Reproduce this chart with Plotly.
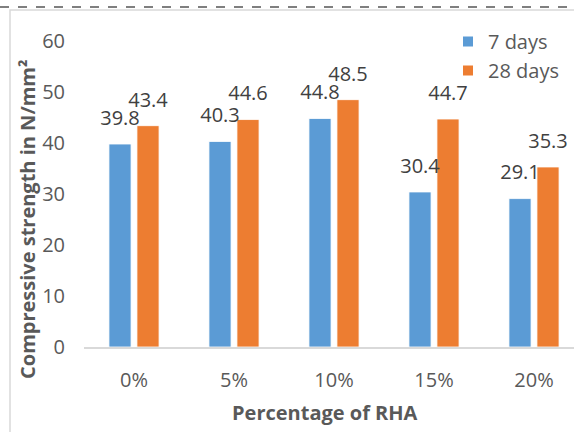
import plotly.graph_objects as go

categories = ["0%", "5%", "10%", "15%", "20%"]
days7 = [39.8, 40.3, 44.8, 30.4, 29.1]
days28 = [43.4, 44.6, 48.5, 44.7, 35.3]
series_names = ["7 days", "28 days"]
colors = ["#5B9BD5", "#ED7D31"]

W, H = 574, 432
L, R, T, B = 84, 0, 41, 85
pw, ph = W - L - R, H - T - B

def px_x(px):
    return (px - L) / pw

def px_y(py):
    return (H - B - py) / ph

font_family = "Open Sans, Liberation Sans, Arial, sans-serif"
txt_color = "#595959"
fs = 20

fig = go.Figure()
for name, vals, col in zip(series_names, [days7, days28], colors):
    fig.add_trace(go.Bar(
        x=categories, y=vals, name=name, offsetgroup=name,
        marker=dict(color=col, line=dict(color="white", width=0.8)),
        hoverinfo="skip",
    ))
for name, vals in zip(series_names, [days7, days28]):
    fig.add_trace(go.Scatter(
        x=categories, y=vals, name=name + " labels", offsetgroup=name,
        mode="markers+text", marker=dict(size=21, opacity=0),
        text=[f"{v:.1f}" for v in vals], textposition="top center",
        textfont=dict(size=fs, color="#404040", family=font_family),
        showlegend=False, hoverinfo="skip", cliponaxis=False,
    ))

fig.update_layout(
    width=W, height=H,
    margin=dict(l=L, r=R, t=T, b=B, autoexpand=False),
    paper_bgcolor="white", plot_bgcolor="white",
    barmode="group", bargap=0.44, bargroupgap=0.21,
    scattermode="group", scattergap=0.44,
    font=dict(family=font_family, color=txt_color, size=fs),
    showlegend=True,
    legend=dict(x=px_x(448), y=px_y(22), xanchor="left", yanchor="top",
                font=dict(size=fs, color=txt_color), bgcolor="rgba(0,0,0,0)",
                itemsizing="constant", tracegroupgap=0),
    xaxis=dict(range=[-0.5, 4.4], showgrid=False, showline=True,
               linecolor="#D9D9D9", linewidth=1.5, ticks="",
               tickfont=dict(size=fs, color=txt_color), ticklabelstandoff=14),
    yaxis=dict(range=[0, 60], dtick=10, showgrid=False, showline=False,
               zeroline=False, ticks="", tickfont=dict(size=fs, color=txt_color),
               ticklabelstandoff=18),
    annotations=[
        dict(text="Compressive strength in N/mm²", textangle=-90,
             xref="paper", yref="paper", x=px_x(28), y=px_y(219),
             xanchor="center", yanchor="middle", showarrow=False,
             font=dict(size=fs, color=txt_color, family=font_family, weight="bold")),
        dict(text="Percentage of RHA",
             xref="paper", yref="paper", x=px_x(325), y=px_y(412),
             xanchor="center", yanchor="middle", showarrow=False,
             font=dict(size=fs, color=txt_color, family=font_family, weight="bold")),
    ],
    shapes=[
        dict(type="rect", xref="paper", yref="paper",
             x0=px_x(10), x1=px_x(600), y0=px_y(460), y1=px_y(10),
             line=dict(color="#D9D9D9", width=1.5), layer="below"),
        dict(type="line", xref="paper", yref="paper",
             x0=px_x(0), x1=px_x(600), y0=px_y(7), y1=px_y(7),
             line=dict(color="#555555", width=1.5, dash="dash")),
    ],
)

fig.write_html("out.html", config={"displayModeBar": False},
               post_script="document.body.style.margin='0';document.body.style.padding='0';")
